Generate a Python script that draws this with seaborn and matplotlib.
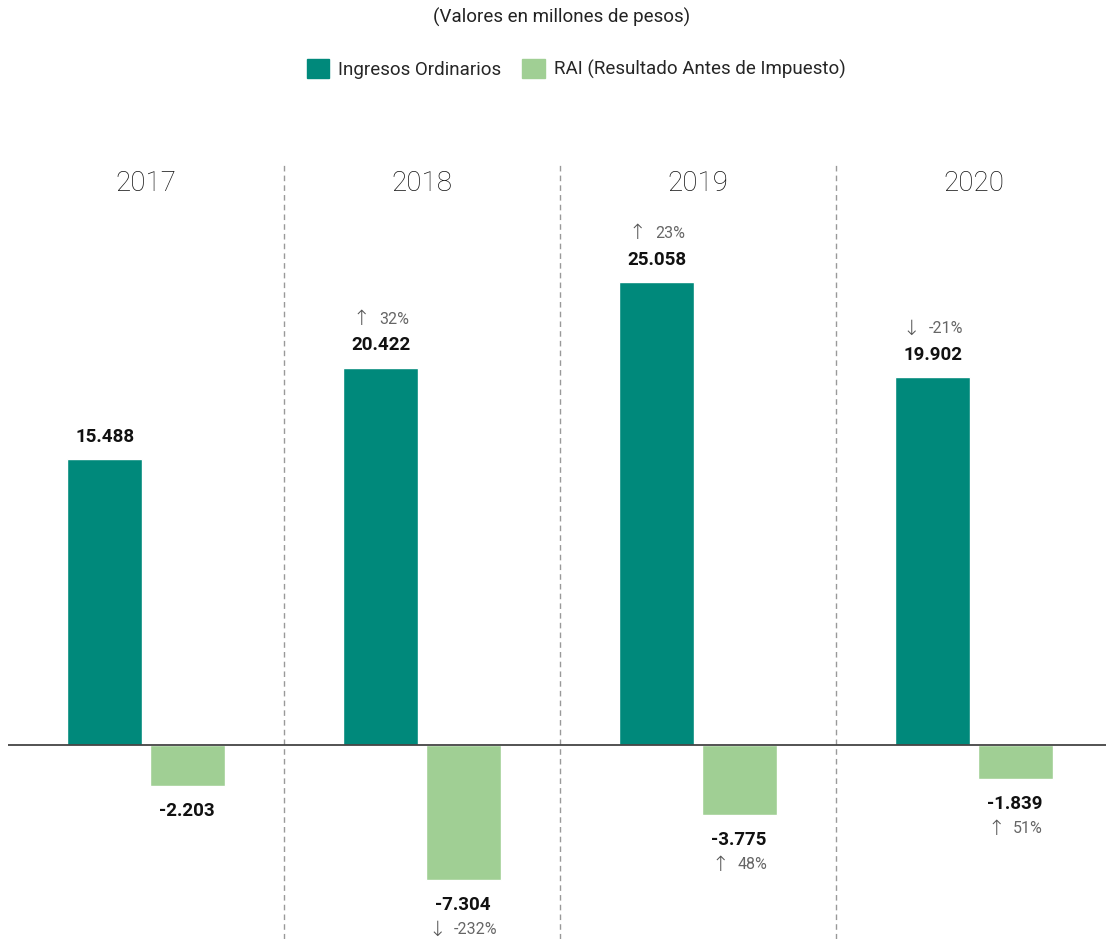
import numpy as np
import pandas as pd
import seaborn as sns
import matplotlib.pyplot as plt
from matplotlib.patches import Patch
from matplotlib.offsetbox import TextArea, HPacker, AnnotationBbox

years = ["2017", "2018", "2019", "2020"]
ingresos = [15488, 20422, 25058, 19902]
rai = [-2203, -7304, -3775, -1839]
var_ingresos = [None, ("↑", "32%"), ("↑", "23%"), ("↓", "-21%")]
var_rai = [None, ("↓", "-232%"), ("↑", "48%"), ("↑", "51%")]
series = ["Ingresos Ordinarios", "RAI (Resultado Antes de Impuesto)"]
colores = ["#00897B", "#A0CF94"]

df = pd.DataFrame({
    "Año": years * 2,
    "Serie": [series[0]] * 4 + [series[1]] * 4,
    "Valor": ingresos + rai,
})

sns.set_style("white")
plt.rcParams["font.family"] = ["Roboto", "DejaVu Sans"]

fig = plt.figure(figsize=(11.06, 9.39), dpi=100)
ax = fig.add_axes([8 / 1106, 0, 1104 / 1106, (939 - 163) / 939])

sns.barplot(data=df, x="Año", y="Valor", hue="Serie", palette=colores,
            width=0.6, gap=0.09, saturation=1, legend=False, ax=ax)

ax.set_xlim(-0.5, 3.5)
ax.set_ylim(-10500, 31500)
ax.axhline(0, color="#444444", lw=1.3, zorder=5)
for x in [0.5, 1.5, 2.5]:
    ax.axvline(x, color="#999999", lw=1, ls=(0, (4, 3)))


def fmt(v):
    return f"{v:,}".replace(",", ".")


def variacion(x, y, dy, partes):
    flecha = TextArea(partes[0], textprops=dict(fontsize=15, color="#555555",
                                                family="DejaVu Sans",
                                                fontweight="light"))
    pct = TextArea(partes[1], textprops=dict(fontsize=11.5, color="#666666"))
    caja = HPacker(children=[flecha, pct], align="center", pad=0, sep=6)
    ab = AnnotationBbox(caja, (x, y), xybox=(0, dy), xycoords="data",
                        boxcoords="offset points", frameon=False,
                        box_alignment=(0.5, 0.5))
    ax.add_artist(ab)


for i, y in enumerate(years):
    ax.text(i, 30400, y, ha="center", va="center", fontsize=20,
            fontweight="light", color="#111111")
    xi = i - 0.149
    xr = i + 0.149
    ax.annotate(fmt(ingresos[i]), (xi, ingresos[i]), xytext=(0, 16),
                textcoords="offset points", ha="center", va="center",
                fontsize=13.5, fontweight="bold", color="#111111")
    if var_ingresos[i]:
        variacion(xi, ingresos[i], 35, var_ingresos[i])
    ax.annotate(fmt(rai[i]), (xr, rai[i]), xytext=(0, -18),
                textcoords="offset points", ha="center", va="center",
                fontsize=13.5, fontweight="bold", color="#111111")
    if var_rai[i]:
        variacion(xr, rai[i], -36, var_rai[i])

ax.set_xticks([])
ax.set_yticks([])
ax.set_xlabel("")
ax.set_ylabel("")
sns.despine(ax=ax, left=True, bottom=True)

fig.text(0.508, 1 - 17 / 939, "(Valores en millones de pesos)", ha="center",
         va="center", fontsize=13.5, color="#222222")
handles = [Patch(color=c, label=s) for c, s in zip(colores, series)]
fig.legend(handles=handles, loc="center", bbox_to_anchor=(0.521, 1 - 69 / 939),
           ncol=2, frameon=False, fontsize=13.5, handlelength=1.2,
           handleheight=1.2, columnspacing=1.1, handletextpad=0.5)

fig.savefig("out.png", dpi=100)
